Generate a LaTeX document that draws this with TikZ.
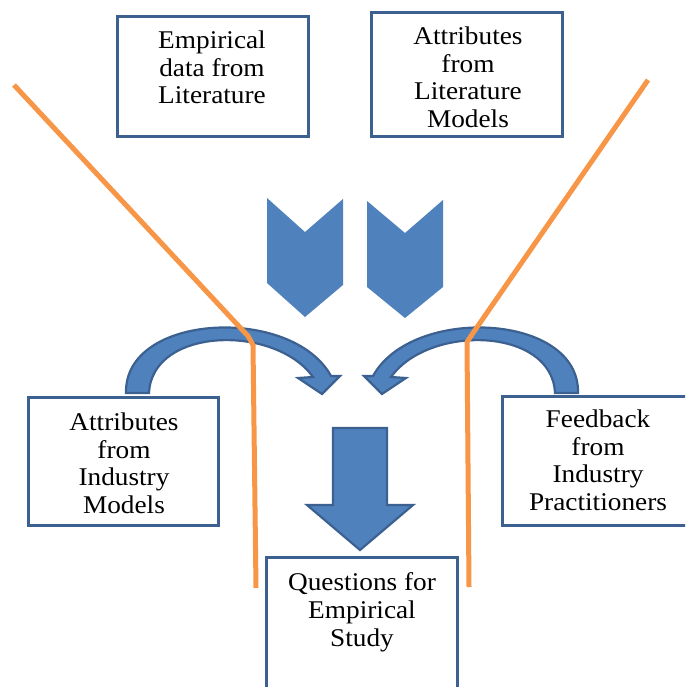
\documentclass[tikz,border=0pt]{standalone}
\usepackage{fontspec}
\setmainfont{Liberation Serif}[FakeStretch=1.07]
\definecolor{boxblue}{HTML}{3C6190}
\definecolor{arrowblue}{HTML}{4F81BD}
\definecolor{guideorange}{HTML}{F79646}
\begin{document}
\begin{tikzpicture}[x=1pt,y=-1pt,
  frame/.style={draw=boxblue, line width=3.8pt, fill=white, inner sep=0pt},
  boxtext/.style={align=center, inner sep=0pt, anchor=north,
    font=\fontsize{25.5}{27.7}\selectfont},
  chevron/.style={fill=arrowblue},
  block/.style={fill=arrowblue, draw=boxblue, line width=2.2pt, line join=miter},
  guide/.style={draw=guideorange, line width=5pt, line join=round}]
\useasboundingbox (0,0) rectangle (685,687);
\clip (0,0) rectangle (685,687);

% two chevrons pointing down
\path[chevron] (267,198) -- (305,232) -- (343,199) -- (343,285) -- (305,317) -- (267,283) -- cycle;
\path[chevron] (367,201) -- (405,233) -- (443,200) -- (443,287) -- (405,318) -- (367,287) -- cycle;

% curved arrow from the left box
\path[block] (126,393) .. controls (124,313) and (292,305) .. (331,376)
  -- (340,376) -- (322,394) -- (298,378) -- (313,377)
  .. controls (275,324) and (152,327) .. (149,393) -- cycle;
% curved arrow from the right box
\path[block] (578,393) .. controls (580,313) and (412,305) .. (373,376)
  -- (364,376) -- (382,394) -- (406,378) -- (391,377)
  .. controls (429,324) and (552,327) .. (555,393) -- cycle;

% main down arrow
\path[block] (333,428) -- (387,428) -- (387,505) -- (413,505) -- (360,550)
  -- (307,505) -- (333,505) -- cycle;

% boxes
\node[frame, minimum width=191pt, minimum height=120pt] (empbox) at (213,76.5) {};
\node[frame, minimum width=191pt, minimum height=124pt] (alitbox) at (467,74.5) {};
\node[frame, minimum width=190pt, minimum height=128pt] (aindbox) at (123.5,461.5) {};
\node[frame, minimum width=217pt, minimum height=129pt] (fbbox) at (611,461) {};
\node[frame, minimum width=191pt, minimum height=161pt] (qbox) at (362,638) {};

% box texts
\node[boxtext] (empt) at (212,30.5) {Empirical\\data from\\Literature};
\node[boxtext] (alitt) at (468,26.5) {Attributes\\from\\Literature\\Models};
\node[boxtext] (aindt) at (124,412.5) {Attributes\\from\\Industry\\Models};
\node[boxtext] (fbt) at (598,409.5) {Feedback\\from\\Industry\\Practitioners};
\node[boxtext] (qt) at (362,572.5) {Questions for\\Empirical\\Study};

% orange guide lines
\draw[guide] (14,85) -- (248,336) -- (253,345) -- (256,588);
\draw[guide] (648,80) -- (473,333) -- (467,342) -- (469,587);
\end{tikzpicture}
\end{document}
